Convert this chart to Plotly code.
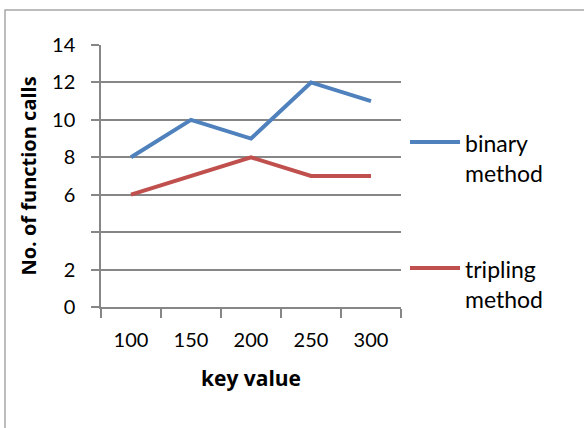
import plotly.graph_objects as go

# Data
key_values = ["100", "150", "200", "250", "300"]
binary_calls = [8, 10, 9, 12, 11]
tripling_calls = [6, 7, 8, 7, 7]
y_tick_vals = [0, 2, 4, 6, 8, 10, 12, 14]
y_tick_text = ["0", "2", "", "6", "8", "10", "12", "14"]

BLUE = "#4F81BD"
RED = "#C0504D"
GRID = "#868686"
FONT = "Lato"
TITLE_FONT = "Open Sans"

W, H = 584, 428
ML, MR, MT, MB = 101, 183, 45, 121
PW, PH = W - ML - MR, H - MT - MB


def px_x(x):
    return (x - ML) / PW


def px_y(y):
    return (H - MB - y) / PH


fig = go.Figure()
fig.add_trace(go.Scatter(x=key_values, y=binary_calls, mode="lines",
                         line=dict(color=BLUE, width=4), name="binary method",
                         showlegend=False))
fig.add_trace(go.Scatter(x=key_values, y=tripling_calls, mode="lines",
                         line=dict(color=RED, width=4), name="tripling method",
                         showlegend=False))

shapes = [
    # chart border (left and top edges visible)
    dict(type="rect", xref="paper", yref="paper",
         x0=px_x(5), x1=px_x(W + 20), y0=px_y(H + 20), y1=px_y(10),
         line=dict(color="#A6A6A6", width=1.5), layer="below"),
    # legend keys
    dict(type="line", xref="paper", yref="paper",
         x0=px_x(410), x1=px_x(460), y0=px_y(142), y1=px_y(142),
         line=dict(color=BLUE, width=4)),
    dict(type="line", xref="paper", yref="paper",
         x0=px_x(410), x1=px_x(460), y0=px_y(268), y1=px_y(268),
         line=dict(color=RED, width=4)),
]

legend_font = dict(family=FONT, size=23, color="#000")
annotations = [
    dict(text="binary<br>method", xref="paper", yref="paper",
         x=px_x(463), y=px_y(158), xanchor="left", yanchor="middle",
         align="left", showarrow=False, font=legend_font),
    dict(text="tripling<br>method", xref="paper", yref="paper",
         x=px_x(463), y=px_y(284), xanchor="left", yanchor="middle",
         align="left", showarrow=False, font=legend_font),
]

fig.update_layout(
    width=W, height=H,
    margin=dict(l=ML, r=MR, t=MT, b=MB),
    paper_bgcolor="white", plot_bgcolor="white",
    font=dict(family=FONT, size=20, color="#000"),
    shapes=shapes, annotations=annotations,
    showlegend=False,
)

fig.update_xaxes(
    type="category", range=[-0.5, len(key_values) - 0.5], tickson="boundaries",
    ticks="outside", ticklen=9, tickcolor=GRID, tickwidth=1.5,
    showline=True, linecolor=GRID, linewidth=1.5,
    showgrid=False, zeroline=False,
    ticklabelstandoff=14,
    tickfont=dict(family=FONT, size=20),
    title=dict(text="key value", font=dict(family=TITLE_FONT, size=21, weight="bold"), standoff=22),
)

fig.update_yaxes(
    range=[0, 14], tickvals=y_tick_vals, ticktext=y_tick_text,
    ticks="outside", ticklen=8, tickcolor=GRID, tickwidth=1.5,
    showline=True, linecolor=GRID, linewidth=1.5,
    showgrid=True, gridcolor=GRID, gridwidth=1.5, zeroline=False,
    ticklabelstandoff=12,
    tickfont=dict(family=FONT, size=20),
    title=dict(text="No. of function calls", font=dict(family=TITLE_FONT, size=20, weight="bold"), standoff=10),
)

fig.write_html("out.html")
